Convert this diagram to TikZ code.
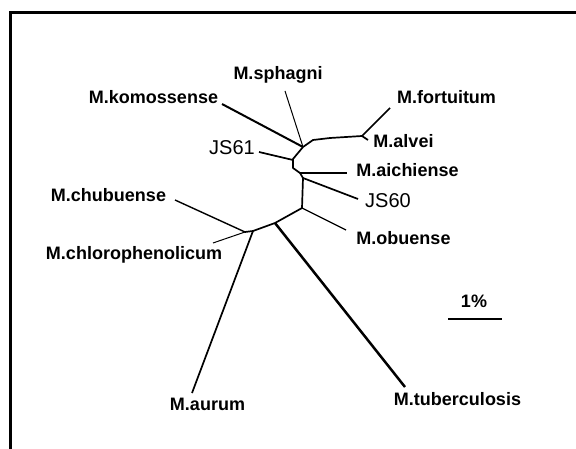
\documentclass[tikz,border=0pt]{standalone}
\usepackage{fontspec}
\setmainfont{Liberation Sans}
\begin{document}
\begin{tikzpicture}[x=1pt,y=-1pt,
  branch/.style={line width=1.7pt,line join=round},
  twig/.style={line width=1pt},
  trunk/.style={line width=2.5pt},
  taxon/.style={font=\fontsize{18}{20}\selectfont\bfseries,inner sep=0pt,anchor=mid},
  isolate/.style={font=\fontsize{20}{22}\selectfont,inner sep=0pt,anchor=mid},
]
  \useasboundingbox (0,0) rectangle (576,449);
  \draw[line width=3pt] (576,12.5) -- (10.5,12.5) -- (10.5,449);

  % inner nodes of the tree
  \coordinate (na) at (303,147);
  \coordinate (nb) at (362,136);
  \coordinate (nc) at (300,173);
  \coordinate (nd) at (303,178);
  \coordinate (ne) at (302,208);
  \coordinate (nf) at (275,223);
  \coordinate (ng) at (253,231);
  \coordinate (nh) at (245,232);

  % tips
  \coordinate (tsph) at (285,91);
  \coordinate (tkom) at (222,104);
  \coordinate (tfor) at (390,108);
  \coordinate (talv) at (368,140);
  \coordinate (tj61) at (259,152);
  \coordinate (taic) at (347,173);
  \coordinate (tj60) at (358,199);
  \coordinate (tobu) at (346,230);
  \coordinate (ttub) at (405,387);
  \coordinate (taur) at (192,393);
  \coordinate (tchu) at (175,200);
  \coordinate (tchl) at (213,243);

  \node[taxon] (sph) at (278,77) {M.sphagni};
  \node[taxon] (kom) at (153.5,101) {M.komossense};
  \node[taxon] (for) at (446.5,101) {M.fortuitum};
  \node[taxon] (alv) at (403.5,145) {M.alvei};
  \node[isolate] (j61) at (232,152) {JS61};
  \node[taxon] (aic) at (407.5,174) {M.aichiense};
  \node[isolate] (j60) at (388,205) {JS60};
  \node[taxon] (obu) at (403.5,242) {M.obuense};
  \node[taxon] (tub) at (457.5,403) {M.tuberculosis};
  \node[taxon] (aur) at (207.5,408) {M.aurum};
  \node[taxon] (chu) at (108.5,199) {M.chubuense};
  \node[taxon] (chl) at (134,257) {M.chlorophenolicum};

  % backbone
  \draw[branch] (na) -- (313,140) -- (330,138) -- (nb);
  \draw[branch] (na) -- (293,159) -- (293,168) -- (nc) -- (nd) -- (ne) -- (nf) -- (ng) -- (nh);

  % leaves
  \draw[twig] (na) -- (tsph);
  \draw[branch,line width=2pt] (na) -- (tkom);
  \draw[branch] (nb) -- (tfor);
  \draw[branch] (nb) -- (talv);
  \draw[branch] (293,160) -- (tj61);
  \draw[branch,line width=2pt] (nc) -- (325,173) -- (taic);
  \draw[branch] (nd) -- (tj60);
  \draw[twig,line width=1.3pt] (ne) -- (tobu);
  \draw[trunk] (nf) -- (ttub);
  \draw[branch] (ng) -- (taur);
  \draw[branch,line width=1.4pt] (nh) -- (tchu);
  \draw[twig] (nh) -- (tchl);

  % scale
  \coordinate (barl) at (448,319);
  \coordinate (barr) at (502,319);
  \draw[branch,line width=2pt] (barl) -- (barr);
  \node[taxon] (pct) at (474,305) {1\%};
\end{tikzpicture}
\end{document}
